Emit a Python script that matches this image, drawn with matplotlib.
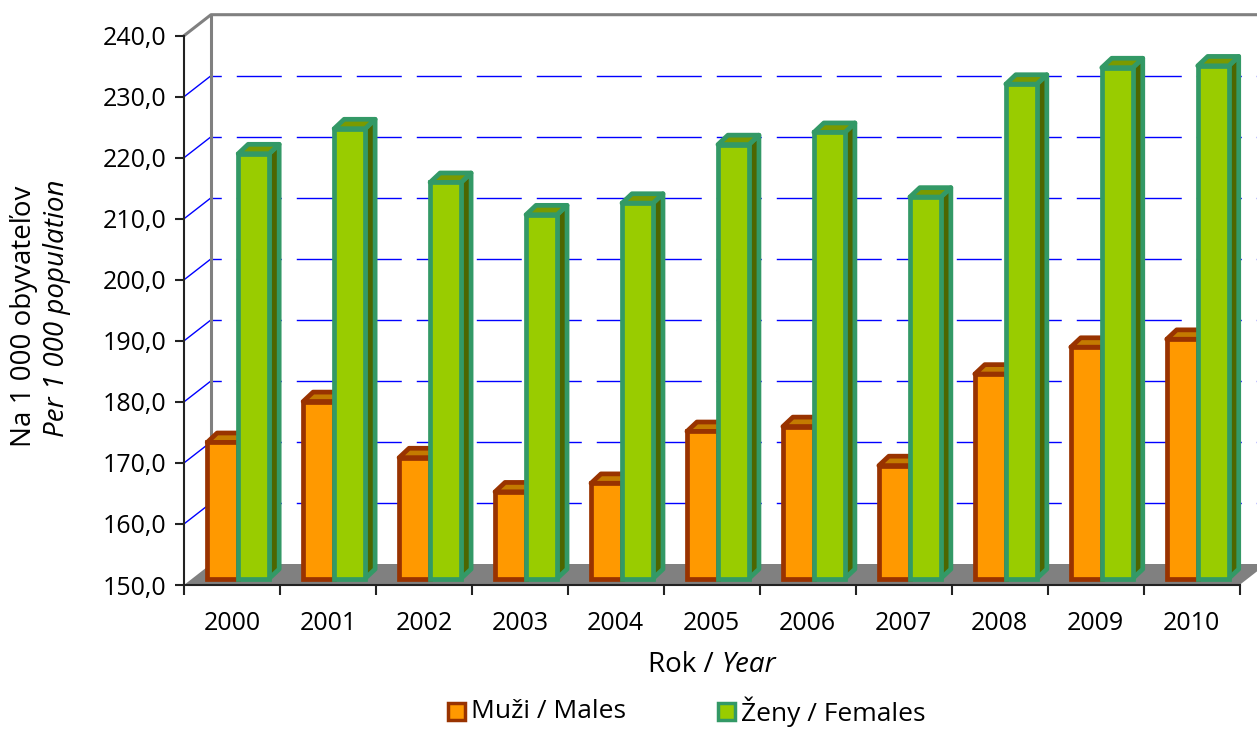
import numpy as np
import matplotlib.pyplot as plt
from matplotlib.patches import Polygon, Rectangle
from matplotlib.offsetbox import TextArea, HPacker, AnnotationBbox

plt.rcParams['font.family'] = ['Open Sans', 'DejaVu Sans']
plt.rcParams['lines.scale_dashes'] = False

# data (per 1 000 population)
years = ['2000', '2001', '2002', '2003', '2004', '2005', '2006', '2007', '2008', '2009', '2010']
males = [172.3, 179.0, 169.8, 164.2, 165.6, 174.1, 174.9, 168.5, 183.5, 187.9, 189.2]
females = [219.6, 223.7, 214.9, 209.6, 211.5, 221.1, 223.1, 212.5, 231.0, 233.7, 234.0]
y_ticks = [150, 160, 170, 180, 190, 200, 210, 220, 230, 240]

W, H = 1257, 729
def fx(px):
    return px / W
def fy(py):
    return 1 - py / H

fig = plt.figure(figsize=(W / 100, H / 100), dpi=100)
ax = fig.add_axes([fx(184), fy(585), (1239.5 - 184) / W, (585 - 35.7) / H])
ymin, ymax = 150, 240
n = len(years)
ax.set_xlim(0, n)
ax.set_ylim(ymin, ymax)

# pixel -> data conversion for the fake 3d depth
px_x = (1239.5 - 184) / n
px_y = (585 - 35.7) / (ymax - ymin)
wall_dx, wall_dy = 27 / px_x, 21 / px_y      # back wall offset
off_dx, off_dy = 6.2 / px_x, 6.5 / px_y      # bar front plane offset
bar_dx, bar_dy = 10 / px_x, 9.4 / px_y       # bar depth
bw = 31 / px_x                               # bar width

blue = '#0000FF'
grey = '#808080'

# back wall gridlines (dashed) and side wall diagonals
for v in y_ticks[1:-1]:
    ax.plot([wall_dx, n + 1], [v + wall_dy] * 2, color=blue, lw=1,
            linestyle=(25, (32.4, 10.8)), clip_on=False, zorder=1)
    ax.plot([0, wall_dx], [v, v + wall_dy], color=blue, lw=1, clip_on=False, zorder=1)

# wall outline
ax.plot([wall_dx, wall_dx], [ymin + wall_dy, ymax + wall_dy], color=grey, lw=2.2,
        clip_on=False, zorder=1.5, solid_capstyle='butt')
ax.plot([0, wall_dx, n + 1], [ymax, ymax + wall_dy, ymax + wall_dy], color=grey, lw=2.2,
        clip_on=False, zorder=1.5)

# floor
floor = Polygon([(0, ymin), (n, ymin), (n + wall_dx, ymin + wall_dy), (wall_dx, ymin + wall_dy)],
                closed=True, facecolor=grey, edgecolor='none', clip_on=False, zorder=2)
ax.add_patch(floor)


def bar3d(lefts, vals, face, edge, topc, sidec, z):
    b = ymin + off_dy
    ax.bar(lefts, [v - ymin for v in vals], bottom=b, width=bw, align='edge',
           color=face, edgecolor=edge, linewidth=3.4, clip_on=False, zorder=z + 1)
    for xl, v in zip(lefts, vals):
        t = v + off_dy
        xr = xl + bw
        side = Polygon([(xr, b), (xr + bar_dx, b + bar_dy), (xr + bar_dx, t + bar_dy), (xr, t)],
                       closed=True, facecolor=sidec, edgecolor=edge, lw=3.4,
                       joinstyle='round', clip_on=False, zorder=z)
        top = Polygon([(xl, t), (xr, t), (xr + bar_dx, t + bar_dy), (xl + bar_dx, t + bar_dy)],
                      closed=True, facecolor=topc, edgecolor=edge, lw=3.4,
                      joinstyle='round', clip_on=False, zorder=z)
        ax.add_patch(side)
        ax.add_patch(top)


x = np.arange(n)
male_left = x + 0.5 - bw + off_dx
female_left = male_left + bw
bar3d(male_left, males, '#FF9900', '#993300', '#C47A00', '#995C00', 3)
bar3d(female_left, females, '#99CC00', '#339966', '#7A9A00', '#4D6600', 5)

# axes styling
for s in ['top', 'right']:
    ax.spines[s].set_visible(False)
for s in ['left', 'bottom']:
    ax.spines[s].set_color('#222222')
    ax.spines[s].set_linewidth(1.5)
    ax.spines[s].set_zorder(8)
ax.patch.set_visible(False)

ax.set_yticks(y_ticks)
ax.set_yticklabels([f'{v:.1f}'.replace('.', ',') for v in y_ticks], fontsize=18)
ax.tick_params(axis='y', length=6.5, width=1.5, color='#222222', pad=6)

ax.set_xticks(np.arange(n + 1))
ax.set_xticklabels([])
ax.set_xticks(x + 0.5, minor=True)
ax.set_xticklabels(years, minor=True, fontsize=18)
ax.tick_params(axis='x', which='major', length=7, width=1.5, color='#222222')
ax.tick_params(axis='x', which='minor', length=0, pad=19)

# axis titles
fig.text(fx(24), fy(316), 'Na 1 000 obyvateľov', rotation=90, ha='center', va='center', fontsize=20)
fig.text(fx(57), fy(308), 'Per 1 000 population', rotation=90, ha='center', va='center',
         fontsize=20, style='italic')

xl_box = HPacker(children=[TextArea('Rok /', textprops=dict(fontsize=20)),
                           TextArea('Year', textprops=dict(fontsize=20, style='italic'))],
                 sep=6, pad=0, align='baseline')
ab = AnnotationBbox(xl_box, (fx(712), fy(665)), xycoords='figure fraction', frameon=False,
                    box_alignment=(0.5, 0.5), pad=0)
fig.add_artist(ab)

# legend
leg = [('Muži / Males', '#FF9900', '#993300', 447.5, 471),
       ('Ženy / Females', '#99CC00', '#339966', 718, 741)]
for label, fc, ec, bx, tx in leg:
    fig.add_artist(Rectangle((fx(bx), fy(719.5)), 17 / W, 17 / H, facecolor=fc, edgecolor=ec,
                             lw=2.5, transform=fig.transFigure))
    fig.text(fx(tx), fy(711.5), label, ha='left', va='center', fontsize=19)

fig.savefig('out.png', dpi=100)
